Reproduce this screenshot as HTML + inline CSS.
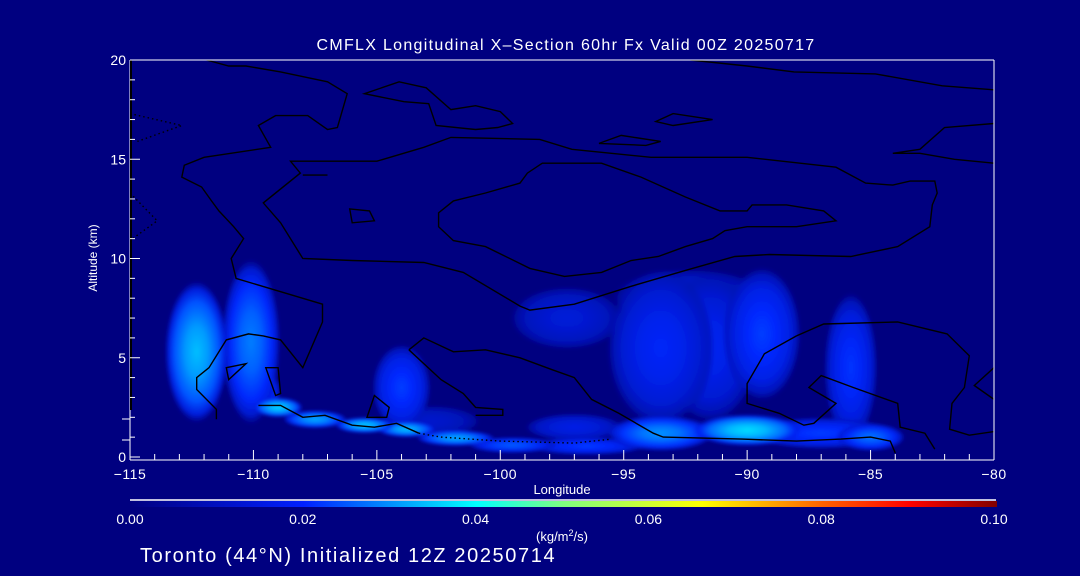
<!DOCTYPE html>
<html><head><meta charset="utf-8"><style>
html,body{margin:0;padding:0;background:#000080;}
svg{display:block;font-family:"Liberation Sans",sans-serif;}
</style></head><body>
<svg id="chart" width="1080" height="576" viewBox="0 0 1080 576">
<rect width="1080" height="576" fill="#000080"/>
<defs>
<filter id="blur" x="-50%" y="-50%" width="200%" height="200%"><feGaussianBlur stdDeviation="1.5"/></filter>
<linearGradient id="cbar" x1="0" x2="1" y1="0" y2="0">
<stop offset="0" stop-color="#000080"/><stop offset="0.2" stop-color="#0020ff"/><stop offset="0.4" stop-color="#00ffff"/><stop offset="0.5" stop-color="#80ff80"/><stop offset="0.66" stop-color="#ffff00"/><stop offset="0.8" stop-color="#ff6000"/><stop offset="0.9" stop-color="#ff0000"/><stop offset="1" stop-color="#800000"/>
</linearGradient>
<clipPath id="plotclip"><rect x="130" y="60" width="864" height="397"/></clipPath>
</defs>
<g id="fields" clip-path="url(#plotclip)" filter="url(#blur)"></g>
<g id="contours" clip-path="url(#plotclip)"></g>
<g id="axes"></g>
<text x="566" y="50" fill="#fff" font-size="16" letter-spacing="1.3" text-anchor="middle">CMFLX Longitudinal X–Section 60hr  Fx Valid 00Z 20250717</text>
<text transform="translate(97,258) rotate(-90)" fill="#fff" font-size="12" text-anchor="middle">Altitude (km)</text>
<text x="562" y="494" fill="#fff" font-size="13" text-anchor="middle">Longitude</text>
<line x1="130" y1="500" x2="996" y2="500" stroke="#fff" stroke-width="1.5"/>
<rect x="130" y="501" width="867" height="6" fill="url(#cbar)"/>
<g id="cbticks"></g>
<text x="562" y="541" fill="#fff" font-size="13" text-anchor="middle">(kg/m<tspan dy="-5" font-size="9">2</tspan><tspan dy="5">/s)</tspan></text>
<text x="140" y="562" fill="#fff" font-size="20" letter-spacing="1.6">Toronto (44°N) Initialized 12Z 20250714</text>
</svg>
<script>
// field blobs (lon, alt, half-width deg, half-height km, value kg/m2/s)
const blobLon = [-112.3,-110.1,-109.5,-104.0,-97.3,-92.3,-93.5,-91.5,-89.4,-85.8,-109.0,-107.5,-105.5,-103.8,-101.8,-99.5,-96.5,-93.5,-90.0,-87.0,-85.0,-102.8,-97.0];
const blobAlt = [5.3,5.8,3.3,3.5,7.0,8.0,5.5,5.5,6.2,4.5,2.5,1.9,1.6,1.4,0.95,0.6,0.55,1.2,1.35,1.2,1.0,1.8,1.5];
const blobW   = [1.3,1.2,0.6,1.2,2.3,3.2,2.2,2.0,1.6,1.1,1.0,1.3,1.2,1.2,1.6,1.8,2.4,2.2,2.2,3.0,1.4,2.0,2.0];
const blobH   = [3.6,4.2,1.0,2.2,1.6,1.5,4.0,3.8,3.4,3.8,0.5,0.45,0.4,0.4,0.4,0.4,0.45,0.9,0.8,0.8,0.7,0.8,0.7];
const blobVal = [0.034,0.028,0.022,0.022,0.014,0.014,0.019,0.018,0.022,0.021,0.036,0.032,0.035,0.034,0.032,0.025,0.022,0.03,0.037,0.022,0.027,0.012,0.016];
// contour lines (lon/alt pairs)
const contourLines = [
 {dash:false, pts:[[-111.9,20],[-111.0,19.7],[-110.3,19.7],[-108.9,19.4],[-107.0,18.9],[-106.2,18.3],[-106.6,16.6],[-107.0,16.5],[-107.8,17.2],[-109.1,17.2],[-109.8,16.7],[-109.3,15.6],[-112.0,15.1],[-112.8,14.7],[-112.9,14.1],[-112.1,13.6],[-111.7,12.9],[-111.4,12.4],[-110.8,11.6],[-110.4,11.0],[-110.9,10.0],[-110.7,9.0],[-107.2,7.7],[-107.2,6.8],[-108.0,4.5],[-108.9,5.9],[-109.6,6.1],[-110.2,6.2],[-111.1,5.9],[-111.8,4.5],[-112.3,4.0],[-112.3,3.4],[-111.5,2.4],[-111.5,1.9]]},
 {dash:false, closed:true, pts:[[-105.5,18.3],[-104.1,18.9],[-103.0,18.6],[-102.0,17.5],[-101.0,17.7],[-100.0,17.4],[-99.5,16.8],[-100.1,16.6],[-101.0,16.5],[-102.6,16.7],[-102.9,17.8],[-103.9,17.9]]},
 {dash:false, pts:[[-108.0,14.2],[-107.0,14.2]]},
 {dash:false, closed:true, pts:[[-108.5,14.9],[-108.1,14.9],[-105.0,14.9],[-103.1,15.6],[-102.0,16.1],[-98.4,16.0],[-97.1,15.5],[-93.9,15.1],[-90.0,15.1],[-86.4,14.6],[-85.2,13.8],[-84.1,13.7],[-83.4,13.9],[-82.4,13.9],[-82.3,13.3],[-82.5,12.7],[-82.6,11.6],[-83.9,10.6],[-85.8,10.1],[-89.1,10.2],[-90.5,10.1],[-92.5,9.4],[-94.7,8.6],[-97.0,7.7],[-98.8,7.4],[-99.2,7.6],[-101.5,9.3],[-103.1,9.8],[-106.0,9.9],[-108.0,10.0],[-108.9,11.8],[-109.6,12.8],[-108.1,14.3]]},
 {dash:false, pts:[[-92.3,20],[-90.0,19.7],[-88.1,19.4],[-84.8,19.3],[-82.1,18.7],[-80.0,18.5]]},
 {dash:false, closed:true, pts:[[-93.7,16.9],[-93.0,17.3],[-91.4,17.0],[-93.0,16.7]]},
 {dash:false, closed:true, pts:[[-96.0,15.8],[-95.1,16.2],[-93.5,15.9],[-94.1,15.7]]},
 {dash:false, closed:true, pts:[[-98.3,14.8],[-95.9,14.8],[-94.3,14.1],[-92.5,13.1],[-91.1,12.4],[-90.0,12.4],[-89.8,12.7],[-88.4,12.7],[-86.9,12.4],[-86.4,11.9],[-88.0,11.6],[-90.0,11.6],[-90.9,11.4],[-91.4,11.0],[-92.5,10.6],[-93.6,10.1],[-94.7,9.9],[-95.9,9.3],[-97.4,9.1],[-98.8,9.5],[-100.6,10.6],[-101.9,10.9],[-102.5,11.6],[-102.5,12.3],[-101.9,12.9],[-100.6,13.3],[-99.2,13.8],[-98.9,14.3]]},
 {dash:false, pts:[[-80.0,16.8],[-82.0,16.6],[-83.0,15.5],[-84.1,15.3],[-83.0,15.3],[-81.6,15.0],[-80.0,14.8]]},
 {dash:false, closed:true, pts:[[-106.1,12.5],[-105.3,12.4],[-105.1,11.9],[-106.0,11.8]]},
 {dash:true, pts:[[-115,17.3],[-112.9,16.7],[-114.7,15.9]]},
 {dash:true, pts:[[-115,13.3],[-113.9,11.9],[-115,10.9]]},
 {dash:false, closed:true, pts:[[-111.1,4.5],[-110.3,4.7],[-111.0,3.9]]},
 {dash:false, closed:true, pts:[[-109.5,4.5],[-109.0,4.5],[-108.9,3.2],[-109.1,3.1]]},
 {dash:false, pts:[[-109.8,2.6],[-108.9,2.6],[-108.0,2.0],[-107.1,2.1],[-106.0,1.6],[-105.1,1.5],[-104.2,1.7],[-103.3,1.2]]},
 {dash:true, pts:[[-103.3,1.2],[-102.4,1.0],[-100.0,0.8],[-97.0,0.7],[-95.5,0.9]]},
 {dash:false, pts:[[-103.7,5.4],[-103.1,6.0],[-101.9,5.3],[-100.6,5.4],[-99.2,5.0],[-97.9,4.4],[-97.0,4.0],[-96.3,2.9],[-95.2,2.2],[-93.8,1.2],[-93.4,1.0],[-90.2,0.9],[-88.0,0.8],[-86.2,0.9],[-85.0,1.0],[-84.2,0.8],[-84.0,0.2]]},
 {dash:false, pts:[[-103.7,5.4],[-102.4,3.9],[-101.5,3.2],[-101.0,2.5],[-99.9,2.4],[-99.9,2.1],[-101.0,2.1]]},
 {dash:false, closed:true, pts:[[-105.1,3.1],[-104.5,2.5],[-104.6,2.0],[-105.4,2.0]]},
 {dash:false, pts:[[-88.0,6.1],[-86.9,6.7],[-83.9,6.8],[-81.9,6.2],[-81.0,5.1],[-81.2,3.5],[-81.7,2.7],[-81.8,1.4],[-81.0,1.1],[-79.9,1.3]]},
 {dash:false, pts:[[-88.0,6.1],[-89.3,5.2],[-90.0,3.7],[-90.0,2.7],[-88.7,2.2],[-87.7,1.6],[-87.3,1.7],[-86.4,2.7],[-87.5,3.5],[-87.0,4.1],[-85.7,3.5],[-83.9,2.7],[-83.8,1.5],[-82.8,1.2],[-82.4,0.4]]},
 {dash:false, pts:[[-80,4.5],[-80.8,3.6],[-80,2.9]]}
];
const xTicks = [-115,-110,-105,-100,-95,-90,-85,-80];
const yTicks = [0,5,10,15,20];
const cbTicks = [0,0.02,0.04,0.06,0.08,0.10];

const NS='http://www.w3.org/2000/svg';
const X0=130,X1=994,Y0=457,Y1=60;
const xs=lon=>X0+(lon+115)/35*(X1-X0);
const ys=alt=>Y0-alt/20*(Y0-Y1);
const cbx=v=>130+v/0.1*864;
function mk(tag,attrs,parent){const e=document.createElementNS(NS,tag);for(const k in attrs)e.setAttribute(k,attrs[k]);parent.appendChild(e);return e;}
function cmap(v){
  const s=[[0,[0,0,128]],[0.02,[0,40,255]],[0.04,[0,255,255]],[0.05,[128,255,128]],[0.066,[255,255,0]],[0.08,[255,96,0]],[0.09,[255,0,0]],[0.1,[128,0,0]]];
  for(let i=1;i<s.length;i++){if(v<=s[i][0]){const t=(v-s[i-1][0])/(s[i][0]-s[i-1][0]);const a=s[i-1][1],b=s[i][1];return 'rgb('+a.map((c,j)=>Math.round(c+(b[j]-c)*t)).join(',')+')';}}
  return 'rgb(128,0,0)';
}
const defs=document.querySelector('defs');
const fields=document.getElementById('fields');
const order=blobLon.map((_,i)=>i).sort((a,b)=>blobVal[a]-blobVal[b]);
order.forEach(i=>{
  const g=mk('radialGradient',{id:'g'+i},defs);
  mk('stop',{offset:'0','stop-color':cmap(blobVal[i])},g);
  mk('stop',{offset:'0.35','stop-color':cmap(blobVal[i]*0.9)},g);
  mk('stop',{offset:'0.7','stop-color':cmap(blobVal[i]*0.7)},g);
  mk('stop',{offset:'0.88','stop-color':cmap(blobVal[i]*0.5),'stop-opacity':'0.85'},g);
  mk('stop',{offset:'1','stop-color':cmap(blobVal[i]*0.3),'stop-opacity':'0'},g);
  const cx=xs(blobLon[i]), cy=ys(blobAlt[i]);
  const rx=xs(blobLon[i]+blobW[i])-cx, ry=cy-ys(blobAlt[i]+blobH[i]);
  const e=mk('ellipse',{cx:cx,cy:cy,rx:rx,ry:ry,fill:'url(#g'+i+')'},fields);
  
  
});
const cg=document.getElementById('contours');
contourLines.forEach(c=>{
  const d=c.pts.map((p,j)=>(j?'L':'M')+xs(p[0]).toFixed(1)+' '+ys(p[1]).toFixed(1)).join(' ')+(c.closed?' Z':'');
  const p=mk('path',{d:d,fill:'none',stroke:'#000',"stroke-width":1.4},cg);
  if(c.dash)p.setAttribute('stroke-dasharray','1.5 3');
  
  
});
const ax=document.getElementById('axes');
mk('line',{x1:X0,y1:Y1,x2:X1,y2:Y1,stroke:'#fff'},ax);
mk('line',{x1:X1,y1:Y1,x2:X1,y2:Y0+3,stroke:'#fff'},ax);
mk('line',{x1:X0,y1:Y0+3,x2:X1,y2:Y0+3,stroke:'#fff'},ax);
mk('line',{x1:X0,y1:Y1,x2:X0,y2:Y0+3,stroke:'#fff'},ax);
mk('line',{x1:X0+1,y1:Y1,x2:X0+1,y2:410,stroke:'#000','stroke-width':2},ax);
for(let lon=-115;lon<=-80;lon++){
  const major=(lon%5===0);
  mk('line',{x1:xs(lon),y1:Y0+3,x2:xs(lon),y2:Y0+3-(major?10:6),stroke:'#fff'},ax);
}
for(let a=0;a<=20;a++){
  const major=(a%5===0);
  mk('line',{x1:X0,y1:ys(a),x2:X0+(major?10:5),y2:ys(a),stroke:'#fff'},ax);
}
mk('line',{x1:122,y1:419,x2:130,y2:419,stroke:'#fff'},ax);
mk('line',{x1:122,y1:440,x2:130,y2:440,stroke:'#fff'},ax);
xTicks.forEach(v=>{
  const t=mk('text',{x:xs(v),y:Y0+22,fill:'#fff','font-size':14,'letter-spacing':0.5,'text-anchor':'middle'},ax);
  t.textContent=(v<0?'−':'')+Math.abs(v);
  
  
});
yTicks.forEach(v=>{
  const t=mk('text',{x:126,y:ys(v)+5,fill:'#fff','font-size':14,'text-anchor':'end'},ax);
  t.textContent=v;
  
  
});
const cb=document.getElementById('cbticks');
cbTicks.forEach(v=>{
  const t=mk('text',{x:cbx(v),y:524,fill:'#fff','font-size':14,'text-anchor':'middle'},cb);
  t.textContent=v.toFixed(2);
  
  
});
</script>
</body></html>
